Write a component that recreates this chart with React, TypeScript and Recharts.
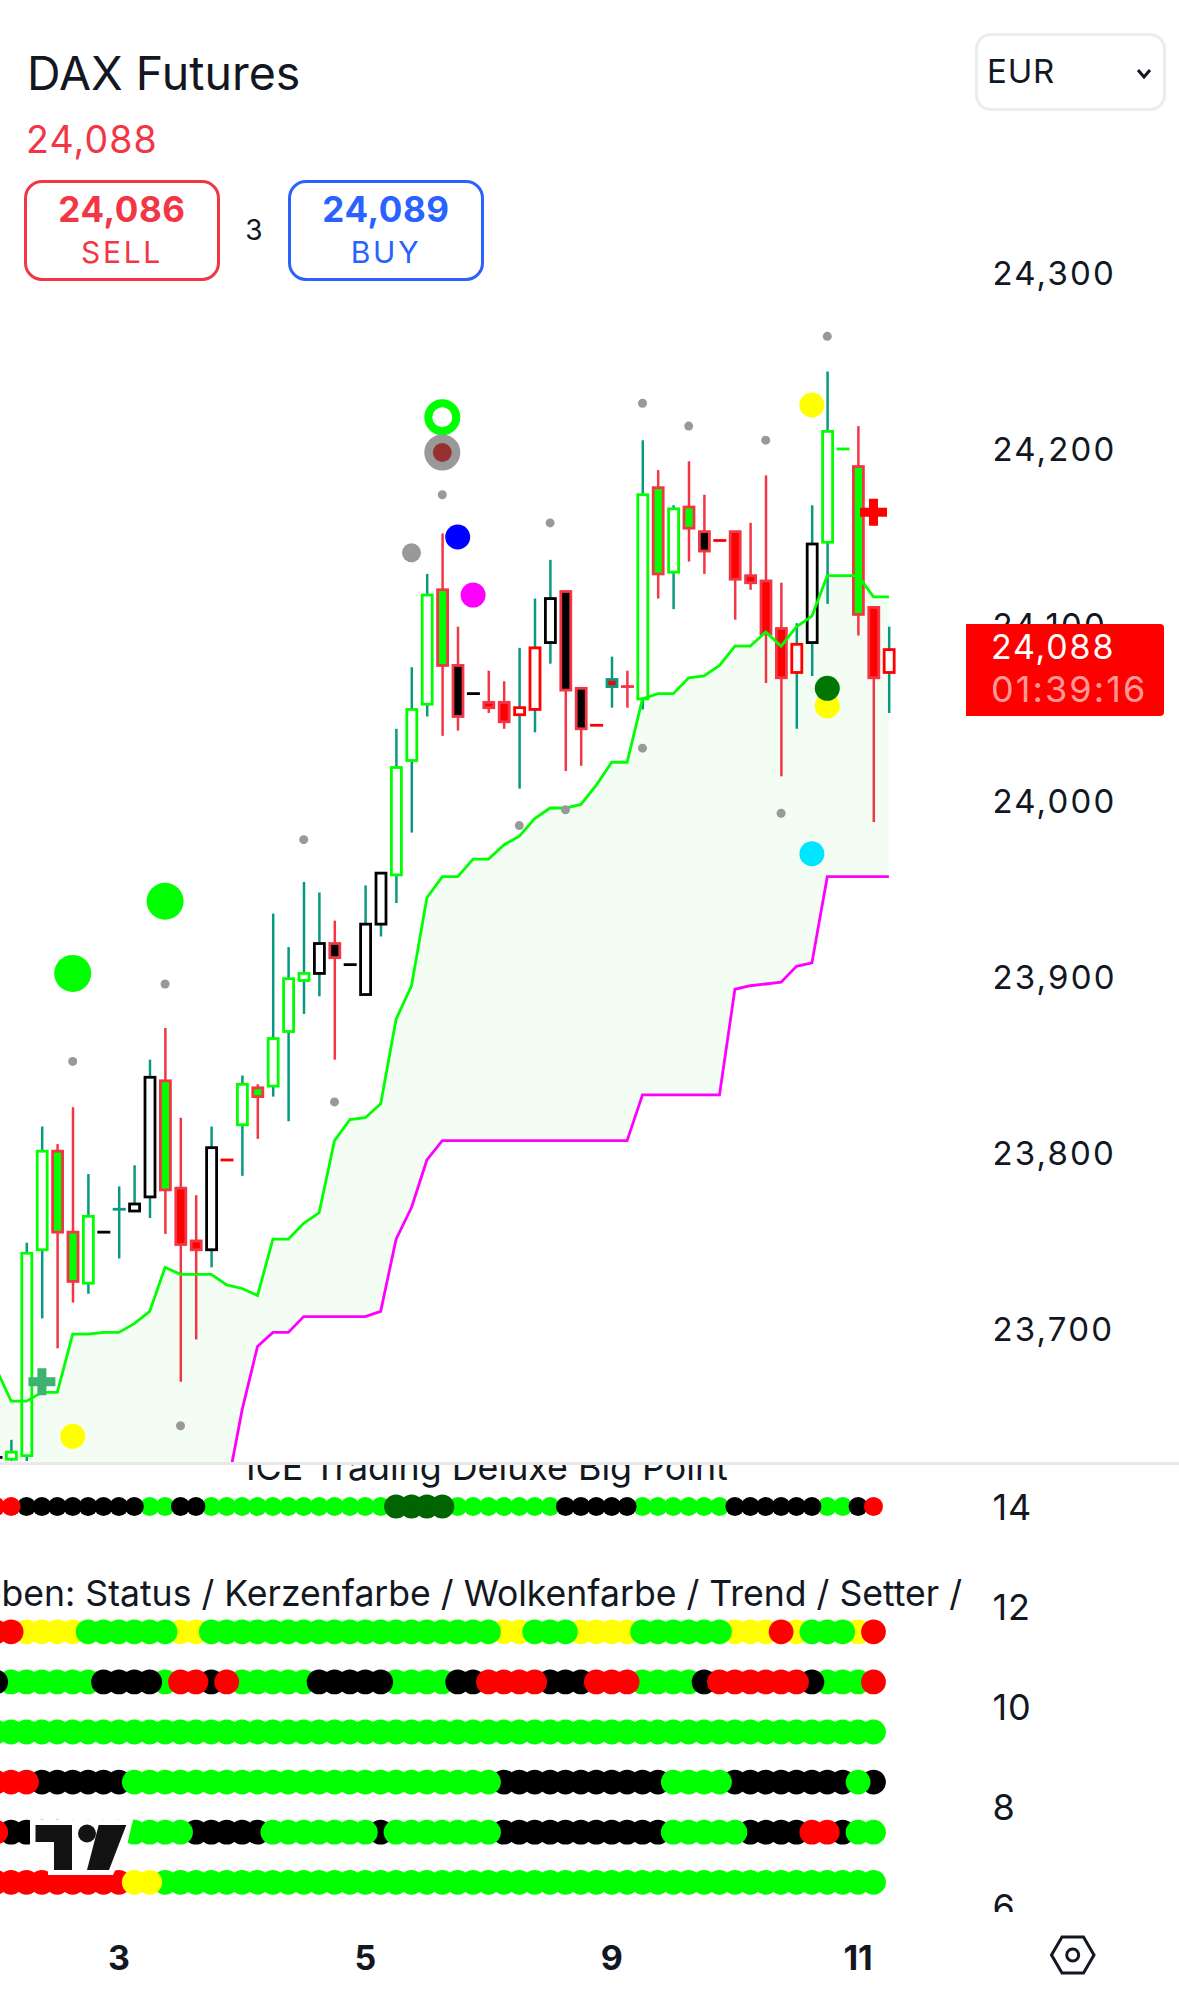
import React from "react";
import { ComposedChart, Bar, Line, Area, XAxis, YAxis } from "recharts";

const FONT = "Inter, 'Noto Sans', sans-serif";

// Candles, first slot is the one cut by the left edge (slot -1)
const highs = [23627,23637,23749,23815,23805,23826,23788,23755,23781,23793,23853,23871,23820,23776,23815,23796,23844,23839,23936,23917,23954,23948,23932,23907,23952,23959,24041,24076,24129,24152,24099,24061,24074,24068,24087,24115,24137,24119,24064,24043,24082,24074,24205,24188,24168,24193,24174,24148,24153,24158,24185,24124,24101,24168,24244,24200,24213,24110,24099];
const lows = [23627,23625,23625,23706,23689,23715,23720,23755,23740,23767,23763,23754,23670,23694,23735,23796,23787,23808,23832,23818,23879,23889,23853,23907,23890,23923,23942,23982,24048,24037,24040,24061,24050,24041,24007,24039,24078,24017,24020,24043,24053,24053,24052,24115,24109,24136,24129,24148,24103,24120,24067,24014,24041,24071,24112,24200,24094,23988,24050];
const bodyTops = [23627,23630,23743,23801,23801,23755,23764,23755,23768,23771,23843,23841,23780,23750,23803,23796,23839,23837,23865,23899,23902,23919,23919,23907,23930,23959,24019,24052,24117,24120,24077,24061,24056,24056,24053,24087,24115,24119,24064,24043,24069,24065,24174,24178,24166,24167,24153,24148,24153,24128,24125,24098,24089,24146,24210,24200,24190,24110,24086];
const bodyBottoms = [23627,23626,23628,23745,23755,23727,23726,23755,23768,23767,23775,23779,23748,23745,23745,23796,23816,23832,23838,23869,23898,23902,23911,23907,23890,23930,23958,24023,24055,24077,24048,24061,24053,24045,24049,24052,24090,24063,24041,24043,24065,24065,24058,24129,24130,24155,24142,24148,24126,24124,24095,24070,24073,24090,24147,24200,24106,24070,24073];
const candleKinds = ["dk","gw","gw","gw","rg","rg","gw","dk","tt","bw","bw","rg","rr","rr","bw","dr","gw","rg","gw","gw","gw","bw","rk","dk","bw","bw","gw","gw","gw","rg","rk","dk","rr","rr","xw","xw","bw","rk","rk","dr","tr","rr","gw","rg","gw","rg","rk","dr","rr","rr","rr","rr","xw","bw","gw","dg","rg","rr","xw"];

// Cloud lines
const cloudUpper = [23678,23659,23659,23664,23664,23697,23697,23698,23698,23703,23710,23735,23731,23731,23731,23725,23723,23719,23751,23751,23760,23766,23807,23819,23820,23828,23876,23895,23945,23957,23957,23967,23967,23975,23980,23990,23996,23996,23998,24009,24022,24022,24058,24061,24061,24070,24071,24077,24088,24088,24096,24088,24099,24105,24128,24128,24128,24116,24116];
const cloudLower = [23580,23580,23580,23580,23580,23580,23580,23580,23580,23580,23580,23580,23580,23580,23590,23608,23654,23690,23698,23698,23707,23707,23707,23707,23707,23710,23751,23769,23796,23807,23807,23807,23807,23807,23807,23807,23807,23807,23807,23807,23807,23807,23833,23833,23833,23833,23833,23833,23893,23895,23896,23897,23906,23908,23957,23957,23957,23957,23957];

// Chart markers: [slot, price]
const grayDotsAbove = [[4,23852],[10,23896],[19,23978],[28,24174],[35,24158],[41,24226],[44,24213],[49,24205],[53,24264]];
const grayDotsBelow = [[11,23645],[21,23829],[33,23986],[36,23995],[41,24030],[50,23993]];
const grayBig = [[26,24141]];
const greenBig = [[4,23902],[10,23943]];
const greenRing = [[28,24218]];
const grayRing = [[28,24198]];
const blueDot = [[29,24150]];
const magentaDot = [[30,24117]];
const yellowDots = [[4,23639],[52,24225],[53,24054]];
const darkGreenDot = [[53,24064]];
const cyanDot = [[52,23970]];
const greenPlus = [[2,23670]];
const redPlus = [[56,24164]];

const priceTicks = [24300,24200,24100,24000,23900,23800,23700];
const indicatorTicks = [14,12,10,8,6];
const dayTickSlots = [7,23,39,55];
const dayTickLabels = ["3","5","9","11"];

// Indicator rows, one state per slot from slot -1 to 56.
const bigPointRow = "rr"+"kkkkkkkk"+"gg"+"kk"+"gggggggggggg"+"dddd"+"ggggggg"+"kkkkk"+"gggggg"+"kkkkkk"+"gg"+"k"+"r";
const statusRow = "rr"+"yyyy"+"gggggg"+"yy"+"ggggggggggggggggggg"+"yy"+"ggg"+"yyyy"+"gggggg"+"yyy"+"r"+"y"+"ggg"+"y"+"r";
const candleRow = "k"+"gggggg"+"kkkk"+"g"+"rr"+"k"+"r"+"ggggg"+"kkkkk"+"gggg"+"kk"+"rrrr"+"kkk"+"rrr"+"gggg"+"k"+"rrrrrr"+"k"+"ggg"+"r";
const cloudRow = "g".repeat(58);
const trendRow = "rrr"+"kkkkkk"+"gggggggggggggggggggggggg"+"kkkkkkkkkkk"+"gggg"+"kkkkkkkk"+"g"+"k";
const setterRow = "r"+"kkkk"+"gggggggg"+"kkkkk"+"ggggggg"+"k"+"ggggggg"+"kkkkkkkkkkk"+"ggggg"+"kkkk"+"rr"+"k"+"gg";
const lastRow = "rrrrrrrrr"+"yy"+"g".repeat(47);

const indicatorRows = [
  { id: "bigPoint", states: bigPointRow, level: 14, layers: ["g","k","r","d"], small: true },
  { id: "status", states: statusRow, level: 11.5, layers: ["y","g","r"] },
  { id: "candle", states: candleRow, level: 10.5, layers: ["g","k","r"] },
  { id: "cloud", states: cloudRow, level: 9.5, layers: ["g"] },
  { id: "trend", states: trendRow, level: 8.5, layers: ["k","g","r"] },
  { id: "setter", states: setterRow, level: 7.5, layers: ["k","g","r"] },
  { id: "last", states: lastRow, level: 6.5, layers: ["g","r","y"] },
];

const GREEN = "#00ff00", TEAL = "#089981", RED = "#f23645", PURE = "#ff0000";
const candleStyle: Record<string, { wick: string; edge: string; fill: string }> = {
  gw: { wick: TEAL, edge: GREEN, fill: "#fff" },
  bw: { wick: TEAL, edge: "#000", fill: "#fff" },
  xw: { wick: TEAL, edge: PURE, fill: "#fff" },
  rg: { wick: RED, edge: RED, fill: GREEN },
  rr: { wick: RED, edge: RED, fill: PURE },
  rk: { wick: RED, edge: RED, fill: "#000" },
  tr: { wick: TEAL, edge: TEAL, fill: PURE },
  tt: { wick: TEAL, edge: TEAL, fill: TEAL },
  dk: { wick: "#000", edge: "#000", fill: "#000" },
  dr: { wick: PURE, edge: PURE, fill: PURE },
  dg: { wick: GREEN, edge: GREEN, fill: GREEN },
};
const stateColor: Record<string, string> = { g: GREEN, k: "#000", r: PURE, y: "#ffff00", d: "#006400" };

const firstSlot = -1;
const priceRows: any[] = highs.map((h, n) => ({
  slot: n + firstSlot,
  range: [lows[n], h],
  top: bodyTops[n],
  bottom: bodyBottoms[n],
  kind: candleKinds[n],
  upper: cloudUpper[n],
  lower: cloudLower[n],
  cloud: [cloudLower[n], cloudUpper[n]],
}));

const markerSets: Record<string, number[][]> = {
  grayDotsAbove, grayDotsBelow, grayBig, greenBig, greenRing, grayRing, blueDot, magentaDot,
  yellowDots, darkGreenDot, cyanDot, greenPlus, redPlus,
};
Object.entries(markerSets).forEach(([key, list]) => {
  list.forEach(([slot, price]) => { priceRows[slot - firstSlot][key] = price; });
});

const indicatorData: any[] = highs.map((_, n) => {
  const row: any = { slot: n + firstSlot };
  indicatorRows.forEach((r) => {
    const s = r.states[n];
    if (s) row[r.id + "_" + s] = r.level;
  });
  return row;
});

const CandleShape = (p: any) => {
  const { x, y, width, height, payload } = p;
  const st = candleStyle[payload.kind];
  const cx = x + width / 2;
  const [lo, hi] = payload.range;
  const at = (v: number) => (hi === lo ? y : y + ((hi - v) / (hi - lo)) * height);
  const yT = at(payload.top), yB = at(payload.bottom);
  if (hi === lo) {
    return <line x1={cx - 6.5} x2={cx + 6.5} y1={y} y2={y} stroke={st.edge} strokeWidth={2.8} />;
  }
  if (yB - yT < 1) {
    return (
      <g>
        <line x1={cx} x2={cx} y1={y} y2={y + height} stroke={st.wick} strokeWidth={2.5} />
        <line x1={cx - 6.5} x2={cx + 6.5} y1={yT} y2={yT} stroke={st.edge} strokeWidth={2.8} />
      </g>
    );
  }
  return (
    <g>
      <line x1={cx} x2={cx} y1={y} y2={y + height} stroke={st.wick} strokeWidth={2.5} />
      <rect x={cx - 5} y={yT} width={10} height={yB - yT} fill={st.fill} stroke={st.edge} strokeWidth={2.8} />
    </g>
  );
};

const plusDot = (color: string, armWidth: number) => (p: any) => {
  if (p.cy == null || p.value == null) return <g key={p.key} />;
  const a = 13.5, t = armWidth / 2;
  const { cx, cy } = p;
  return (
    <path
      key={p.key}
      d={`M${cx - t} ${cy - a}H${cx + t}V${cy - t}H${cx + a}V${cy + t}H${cx + t}V${cy + a}H${cx - t}V${cy + t}H${cx - a}V${cy - t}H${cx - t}Z`}
      fill={color}
    />
  );
};

const CHART_LEFT = -12.4;
const CHART_W = 1191.4;
const AXIS_W = CHART_W - 908.6;

const TICK_X = 992 - CHART_LEFT;
const PriceTick = (p: any) => (
  <text x={TICK_X} y={p.y} dy="0.36em" fill="#131722" fontFamily={FONT} fontSize={33} letterSpacing={2.2}>
    {Number(p.payload.value).toLocaleString("en-US")}
  </text>
);
const IndicatorTick = (p: any) => (
  <text x={TICK_X} y={p.y} dy="0.36em" fill="#131722" fontFamily={FONT} fontSize={36} letterSpacing={1}>
    {p.payload.value}
  </text>
);
const DayTick = (p: any) => (
  <text x={p.x} y={p.y + 30} dy="0.36em" textAnchor="middle" fill="#131722" fontFamily={FONT} fontSize={34} fontWeight={700}>
    {dayTickLabels[dayTickSlots.indexOf(p.payload.value)]}
  </text>
);

const Txt = ({ x, y, size, color = "#131722", weight = 400, spacing = 0, w, align = "left", children }: any) => (
  <div
    style={{
      position: "absolute", left: x, top: y, width: w, fontFamily: FONT, fontSize: size, color,
      fontWeight: weight, letterSpacing: spacing, lineHeight: `${size}px`, whiteSpace: "nowrap", textAlign: align,
    }}
  >
    {children}
  </div>
);

const common = { isAnimationActive: false, activeDot: false, stroke: "none", legendType: "none" } as any;
const round = (key: string, r: number, fill: string, extra: any = {}) => (
  <Line key={key} dataKey={key} {...common} dot={{ r, fill, stroke: "none", ...extra }} />
);

export default function App() {
  return (
    <div style={{ position: "absolute", left: 0, top: 0, width: 1179, height: 1993, overflow: "hidden", background: "#fff" }}>
      <Txt x={27} y={50} size={46.5}>DAX Futures</Txt>
      <Txt x={26} y={121} size={37.5} color={RED} spacing={1.1}>24,088</Txt>

      <div style={{ position: "absolute", left: 24, top: 180, width: 196, height: 101, boxSizing: "border-box", border: `3px solid ${RED}`, borderRadius: 18 }} />
      <Txt x={24} y={192} w={196} align="center" size={35} color={RED} weight={700} spacing={0.6}>24,086</Txt>
      <Txt x={24} y={237} w={196} align="center" size={30} color={RED} spacing={2.7}>SELL</Txt>
      <Txt x={240} y={216} w={28} align="center" size={28}>3</Txt>
      <div style={{ position: "absolute", left: 288, top: 180, width: 196, height: 101, boxSizing: "border-box", border: "3px solid #2962ff", borderRadius: 18 }} />
      <Txt x={288} y={192} w={196} align="center" size={35} color="#2962ff" weight={700} spacing={0.6}>24,089</Txt>
      <Txt x={288} y={237} w={196} align="center" size={30} color="#2962ff" spacing={2.7}>BUY</Txt>

      <div style={{ position: "absolute", left: 975, top: 33, width: 191, height: 78, boxSizing: "border-box", border: "3px solid #ececec", borderRadius: 16 }} />
      <Txt x={987} y={55} size={33} spacing={0.8}>EUR</Txt>
      <svg style={{ position: "absolute", left: 1134, top: 66 }} width={20} height={16}>
        <path d="M4 4L10 11L16 4" fill="none" stroke="#131722" strokeWidth={3} />
      </svg>

      <div style={{ position: "absolute", left: CHART_LEFT, top: 0 }}>
        <ComposedChart width={CHART_W} height={1462} data={priceRows} margin={{ top: 0, right: 0, bottom: 0, left: 0 }}>
          <XAxis dataKey="slot" hide />
          <YAxis
            orientation="right"
            width={AXIS_W}
            domain={[23624.4, 24455.1]}
            allowDataOverflow
            ticks={priceTicks}
            interval={0}
            axisLine={false}
            tickLine={false}
            tick={PriceTick}
          />
          <Area dataKey="cloud" type="linear" isAnimationActive={false} stroke="none" fill="#f4fdf4" fillOpacity={1} activeDot={false} dot={false} />
          <Line dataKey="lower" type="linear" isAnimationActive={false} stroke="#ff00ff" strokeWidth={2.8} dot={false} activeDot={false} />
          <Line dataKey="upper" type="linear" isAnimationActive={false} stroke="#00ff00" strokeWidth={2.8} dot={false} activeDot={false} />
          <Line dataKey="greenPlus" {...common} dot={plusDot("#3cb371", 9)} />
          <Line dataKey="redPlus" {...common} dot={plusDot("#ff0000", 9)} />
          <Bar dataKey="range" barSize={12} isAnimationActive={false} shape={CandleShape} />
          {round("grayDotsAbove", 4.5, "#999999")}
          {round("grayDotsBelow", 4.5, "#999999")}
          {round("grayBig", 9.5, "#999999")}
          {round("greenBig", 18.5, "#00ff00")}
          {round("blueDot", 12.5, "#0000ff")}
          {round("magentaDot", 12.5, "#ff00ff")}
          {round("yellowDots", 12.5, "#ffff00")}
          {round("darkGreenDot", 12.5, "#007700")}
          {round("cyanDot", 12.5, "#00e5ff")}
          {round("greenRing", 14, "#ffffff", { stroke: "#00ff00", strokeWidth: 8 })}
          {round("grayRing", 13.7, "#993030", { stroke: "#999999", strokeWidth: 8.6 })}
        </ComposedChart>
      </div>

      <div style={{ position: "absolute", left: 966, top: 624, width: 198, height: 92, background: "#ff0000", borderRadius: "0 4px 4px 0" }} />
      <Txt x={991} y={630} size={34} color="#fff" spacing={1.8}>24,088</Txt>
      <Txt x={991} y={671} size={36} color="rgba(255,255,255,0.62)" spacing={2.1}>01:39:16</Txt>

      <div style={{ position: "absolute", left: 0, top: 1462, width: 1179, height: 3, background: "#e9e9e9" }} />

      <div style={{ position: "absolute", left: 0, top: 1465, width: 1179, height: 200, overflow: "hidden" }}>
        <Txt x={246} y={-15} size={35.8}>ICE Trading Deluxe Big Point</Txt>
        <Txt x={-100} y={111} w={1062} align="right" size={35.6}>oben: Status / Kerzenfarbe / Wolkenfarbe / Trend / Setter /</Txt>
      </div>

      <div style={{ position: "absolute", left: CHART_LEFT, top: 1465 }}>
        <ComposedChart width={CHART_W} height={528} data={indicatorData} margin={{ top: 0, right: 0, bottom: 0, left: 0 }}>
          <XAxis dataKey="slot" scale="band" ticks={dayTickSlots} interval={0} height={73} axisLine={false} tickLine={false} tick={DayTick} />
          <YAxis
            orientation="right"
            width={AXIS_W}
            domain={[5.747, 14.83]}
            allowDataOverflow
            ticks={indicatorTicks}
            interval={0}
            axisLine={false}
            tickLine={false}
            tick={IndicatorTick}
          />
          {indicatorRows.flatMap((r) =>
            r.layers.map((s) => {
              const key = r.id + "_" + s;
              const size = r.small ? (s === "d" ? 12 : 9.5) : 12.4;
              return round(key, size, stateColor[s]);
            })
          )}
        </ComposedChart>
      </div>

      <div style={{ position: "absolute", left: 960, top: 1912, width: 200, height: 20, background: "#fff" }} />

      <svg style={{ position: "absolute", left: 0, top: 0, pointerEvents: "none" }} width={1179} height={1993}>
        <path d="M30 1820H133L127 1845L113 1875H48V1858H30Z" fill="#fff" />
        <path d="M35.5 1825H72V1870H54V1842H35.5Z" fill="#131313" />
        <circle cx={87} cy={1833.5} r={9} fill="#131313" />
        <path d="M98.7 1825H126.3L109 1870H87Z" fill="#131313" />
        <path d="M1051.5 1955L1062 1937H1083.5L1094 1955L1083.5 1973H1062Z" fill="none" stroke="#131722" strokeWidth={3} />
        <circle cx={1072.7} cy={1955} r={6} fill="none" stroke="#131722" strokeWidth={3} />
      </svg>
    </div>
  );
}
